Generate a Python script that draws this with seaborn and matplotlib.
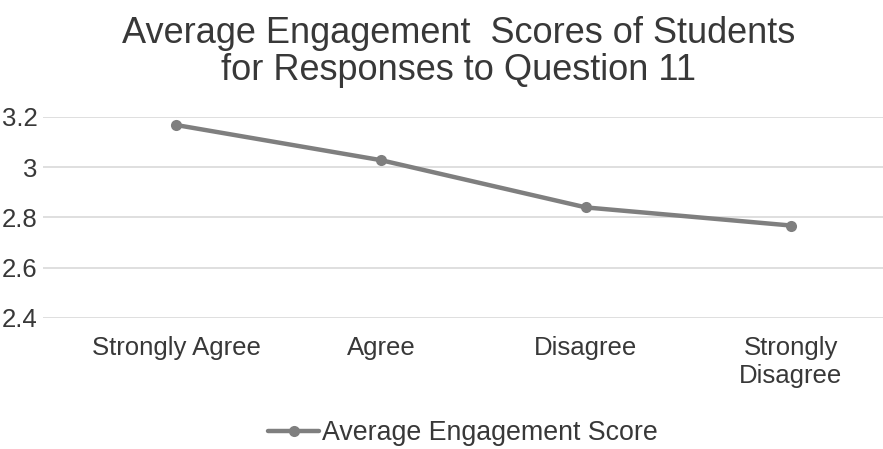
import matplotlib
matplotlib.use("Agg")
import matplotlib.pyplot as plt
import pandas as pd
import seaborn as sns

categories = ["Strongly Agree", "Agree", "Disagree", "Strongly\nDisagree"]
scores = [3.168, 3.028, 2.840, 2.768]
y_ticks = [2.4, 2.6, 2.8, 3.0, 3.2]
y_tick_labels = ["2.4", "2.6", "2.8", "3", "3.2"]
series_name = "Average Engagement Score"

df = pd.DataFrame({"Response": categories, "Score": scores})

sns.set_style("white")
plt.rcParams["font.family"] = ["Liberation Sans", "DejaVu Sans"]
text_col = "#383838"
line_col = "#7f7f7f"

fig = plt.figure(figsize=(8.83, 4.49), dpi=100)
ax = fig.add_axes([0.0487, 0.2918, 0.9513, 0.4477])

sns.lineplot(data=df, x="Response", y="Score", sort=False, ax=ax,
             color=line_col, linewidth=3.2, marker="o", markersize=8,
             markeredgewidth=0, label=series_name, clip_on=False)

ax.set_ylim(2.4, 3.2)
ax.set_xlim(-0.65, 3.45)
ax.set_yticks(y_ticks)
ax.set_yticklabels(y_tick_labels)
ax.grid(axis="y", color="#d9d9d9", linewidth=1.2)
ax.set_axisbelow(True)
for s in ax.spines.values():
    s.set_visible(False)
ax.tick_params(axis="both", length=0, labelsize=18.5, labelcolor=text_col)
ax.tick_params(axis="x", pad=13)
ax.tick_params(axis="y", pad=4)
ax.set_xlabel("")
ax.set_ylabel("")

fig.text(0.519, 0.884,
         "Average Engagement  Scores of Students\nfor Responses to Question 11",
         ha="center", va="center", fontsize=26, color=text_col, linespacing=1.05)

ax.legend(loc="center", bbox_to_anchor=(0.5, -0.572), frameon=False,
          fontsize=19.3, labelcolor=text_col, handlelength=1.9, handletextpad=0.1)

fig.savefig("out.png", dpi=100, facecolor="white")
